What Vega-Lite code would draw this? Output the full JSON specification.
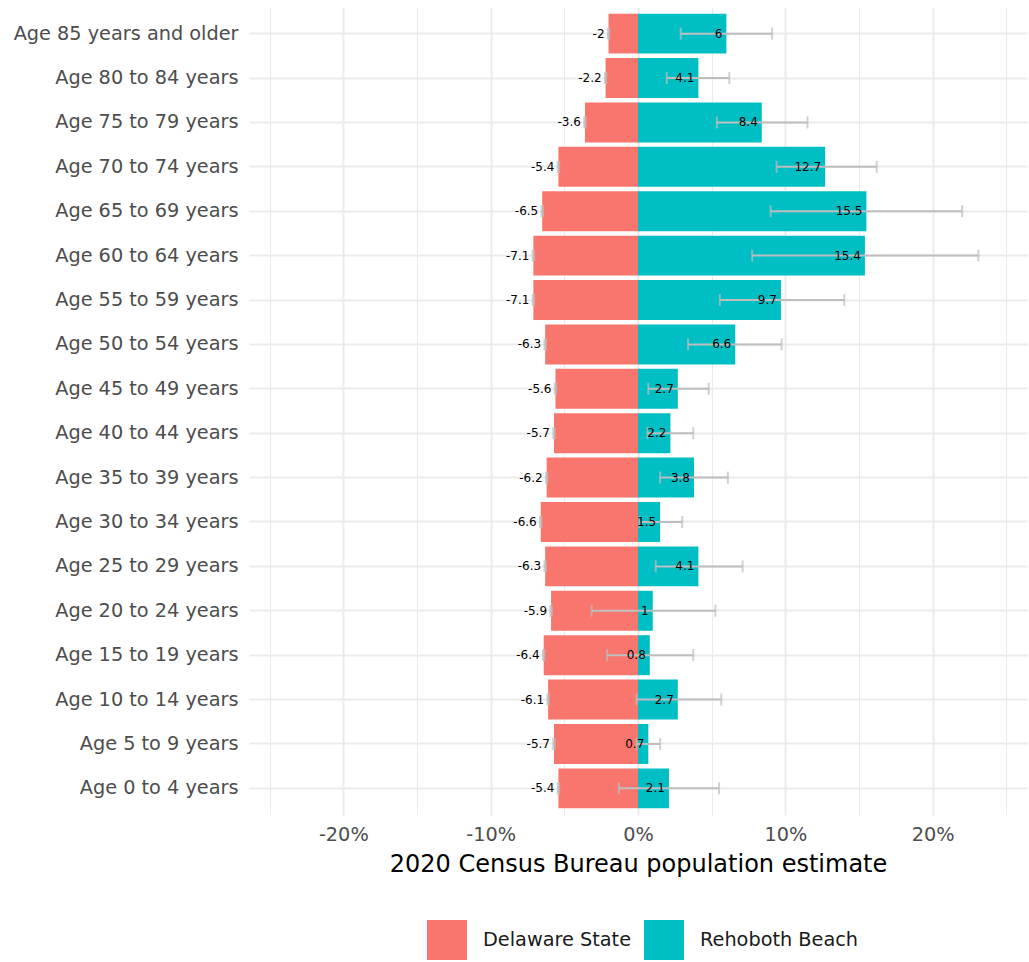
{
  "$schema": "https://vega.github.io/schema/vega-lite/v6.json",
  "autosize": {"type": "none"},
  "padding": {"left": 249, "top": 7, "right": 2, "bottom": 147},
  "width": 778,
  "height": 808,
  "background": "white",
  "config": {
    "view": {"stroke": null},
    "font": "DejaVu Sans",
    "locale": {"number": {"decimal": ".", "thousands": ",", "grouping": [3], "currency": ["$", ""], "minus": "-"}}
  },
  "data": {
    "values": [
      {"age": "Age 85 years and older", "group": "Delaware State", "value": -2, "lower": -2.05, "upper": -1.95},
      {"age": "Age 80 to 84 years", "group": "Delaware State", "value": -2.2, "lower": -2.25, "upper": -2.15},
      {"age": "Age 75 to 79 years", "group": "Delaware State", "value": -3.6, "lower": -3.65, "upper": -3.55},
      {"age": "Age 70 to 74 years", "group": "Delaware State", "value": -5.4, "lower": -5.45, "upper": -5.35},
      {"age": "Age 65 to 69 years", "group": "Delaware State", "value": -6.5, "lower": -6.55, "upper": -6.45},
      {"age": "Age 60 to 64 years", "group": "Delaware State", "value": -7.1, "lower": -7.15, "upper": -7.05},
      {"age": "Age 55 to 59 years", "group": "Delaware State", "value": -7.1, "lower": -7.15, "upper": -7.05},
      {"age": "Age 50 to 54 years", "group": "Delaware State", "value": -6.3, "lower": -6.35, "upper": -6.25},
      {"age": "Age 45 to 49 years", "group": "Delaware State", "value": -5.6, "lower": -5.65, "upper": -5.55},
      {"age": "Age 40 to 44 years", "group": "Delaware State", "value": -5.7, "lower": -5.75, "upper": -5.65},
      {"age": "Age 35 to 39 years", "group": "Delaware State", "value": -6.2, "lower": -6.25, "upper": -6.15},
      {"age": "Age 30 to 34 years", "group": "Delaware State", "value": -6.6, "lower": -6.65, "upper": -6.55},
      {"age": "Age 25 to 29 years", "group": "Delaware State", "value": -6.3, "lower": -6.35, "upper": -6.25},
      {"age": "Age 20 to 24 years", "group": "Delaware State", "value": -5.9, "lower": -5.95, "upper": -5.85},
      {"age": "Age 15 to 19 years", "group": "Delaware State", "value": -6.4, "lower": -6.45, "upper": -6.35},
      {"age": "Age 10 to 14 years", "group": "Delaware State", "value": -6.1, "lower": -6.15, "upper": -6.05},
      {"age": "Age 5 to 9 years", "group": "Delaware State", "value": -5.7, "lower": -5.75, "upper": -5.65},
      {"age": "Age 0 to 4 years", "group": "Delaware State", "value": -5.4, "lower": -5.45, "upper": -5.35},
      {"age": "Age 85 years and older", "group": "Rehoboth Beach", "value": 6, "lower": 2.9, "upper": 9.1},
      {"age": "Age 80 to 84 years", "group": "Rehoboth Beach", "value": 4.1, "lower": 1.95, "upper": 6.2},
      {"age": "Age 75 to 79 years", "group": "Rehoboth Beach", "value": 8.4, "lower": 5.35, "upper": 11.5},
      {"age": "Age 70 to 74 years", "group": "Rehoboth Beach", "value": 12.7, "lower": 9.4, "upper": 16.2},
      {"age": "Age 65 to 69 years", "group": "Rehoboth Beach", "value": 15.5, "lower": 9.0, "upper": 22.0},
      {"age": "Age 60 to 64 years", "group": "Rehoboth Beach", "value": 15.4, "lower": 7.75, "upper": 23.1},
      {"age": "Age 55 to 59 years", "group": "Rehoboth Beach", "value": 9.7, "lower": 5.55, "upper": 14.0},
      {"age": "Age 50 to 54 years", "group": "Rehoboth Beach", "value": 6.6, "lower": 3.4, "upper": 9.75},
      {"age": "Age 45 to 49 years", "group": "Rehoboth Beach", "value": 2.7, "lower": 0.7, "upper": 4.8},
      {"age": "Age 40 to 44 years", "group": "Rehoboth Beach", "value": 2.2, "lower": 0.65, "upper": 3.75},
      {"age": "Age 35 to 39 years", "group": "Rehoboth Beach", "value": 3.8, "lower": 1.5, "upper": 6.1},
      {"age": "Age 30 to 34 years", "group": "Rehoboth Beach", "value": 1.5, "lower": 0.1, "upper": 3.0},
      {"age": "Age 25 to 29 years", "group": "Rehoboth Beach", "value": 4.1, "lower": 1.2, "upper": 7.1},
      {"age": "Age 20 to 24 years", "group": "Rehoboth Beach", "value": 1, "lower": -3.15, "upper": 5.25},
      {"age": "Age 15 to 19 years", "group": "Rehoboth Beach", "value": 0.8, "lower": -2.1, "upper": 3.75},
      {"age": "Age 10 to 14 years", "group": "Rehoboth Beach", "value": 2.7, "lower": -0.1, "upper": 5.65},
      {"age": "Age 5 to 9 years", "group": "Rehoboth Beach", "value": 0.7, "lower": -0.1, "upper": 1.5},
      {"age": "Age 0 to 4 years", "group": "Rehoboth Beach", "value": 2.1, "lower": -1.3, "upper": 5.5}
    ]
  },
  "encoding": {
    "y": {
      "field": "age",
      "type": "nominal",
      "sort": ["Age 85 years and older", "Age 80 to 84 years", "Age 75 to 79 years", "Age 70 to 74 years", "Age 65 to 69 years", "Age 60 to 64 years", "Age 55 to 59 years", "Age 50 to 54 years", "Age 45 to 49 years", "Age 40 to 44 years", "Age 35 to 39 years", "Age 30 to 34 years", "Age 25 to 29 years", "Age 20 to 24 years", "Age 15 to 19 years", "Age 10 to 14 years", "Age 5 to 9 years", "Age 0 to 4 years"],
      "scale": {"paddingInner": 0.1, "paddingOuter": 0.15},
      "axis": {
        "title": null,
        "domain": false,
        "ticks": false,
        "grid": true,
        "bandPosition": 0.5,
        "gridColor": "#EBEBEB",
        "gridWidth": 2,
        "labelFontSize": 19.3,
        "labelColor": "#4D4D4D",
        "labelPadding": 11,
        "labelLimit": 400
      }
    }
  },
  "layer": [
    {
      "mark": {"type": "bar"},
      "encoding": {
        "x": {
          "field": "value",
          "type": "quantitative",
          "stack": null,
          "scale": {"domain": [-26.4, 26.4], "nice": false, "zero": false},
          "axis": {
            "values": [-20, -10, 0, 10, 20],
            "labelExpr": "datum.value + '%'",
            "title": "2020 Census Bureau population estimate",
            "titleFontSize": 24,
            "titleFontWeight": "normal",
            "titleColor": "#000000",
            "titlePadding": 8,
            "domain": false,
            "ticks": false,
            "grid": true,
            "gridColor": "#EBEBEB",
            "gridWidth": 2,
            "labelFontSize": 19.3,
            "labelColor": "#4D4D4D",
            "labelPadding": 10
          }
        },
        "color": {
          "field": "group",
          "type": "nominal",
          "scale": {"domain": ["Delaware State", "Rehoboth Beach"], "range": ["#F8766D", "#00BFC4"]},
          "legend": {
            "title": null,
            "orient": "none",
            "legendX": 178,
            "legendY": 913,
            "direction": "horizontal",
            "symbolType": "square",
            "symbolSize": 1600,
            "symbolStrokeWidth": 0,
            "symbolOpacity": 1,
            "labelFontSize": 19.3,
            "labelColor": "#1A1A1A",
            "labelOffset": 16,
            "columnPadding": 13,
            "padding": 0
          }
        }
      }
    },
    {
      "mark": {"type": "rule", "opacity": 0},
      "encoding": {
        "x": {
          "field": "value",
          "type": "quantitative",
          "axis": {
            "orient": "top",
            "values": [-25, -15, -5, 5, 15, 25],
            "labels": false,
            "ticks": false,
            "domain": false,
            "title": null,
            "grid": true,
            "gridColor": "#EBEBEB",
            "gridWidth": 1
          }
        }
      }
    },
    {
      "mark": {"type": "errorbar", "color": "#BEBEBE", "thickness": 2, "ticks": {"size": 12, "thickness": 2, "color": "#BEBEBE"}},
      "encoding": {
        "x": {"field": "lower", "type": "quantitative", "axis": null},
        "x2": {"field": "upper"}
      }
    },
    {
      "mark": {"type": "text", "align": "right", "baseline": "middle", "dx": -4, "fontSize": 12, "color": "#000000"},
      "encoding": {
        "x": {"field": "value", "type": "quantitative", "axis": null},
        "text": {"field": "value", "type": "quantitative", "format": "~g"}
      }
    }
  ],
  "resolve": {"axis": {"x": "independent"}}
}
